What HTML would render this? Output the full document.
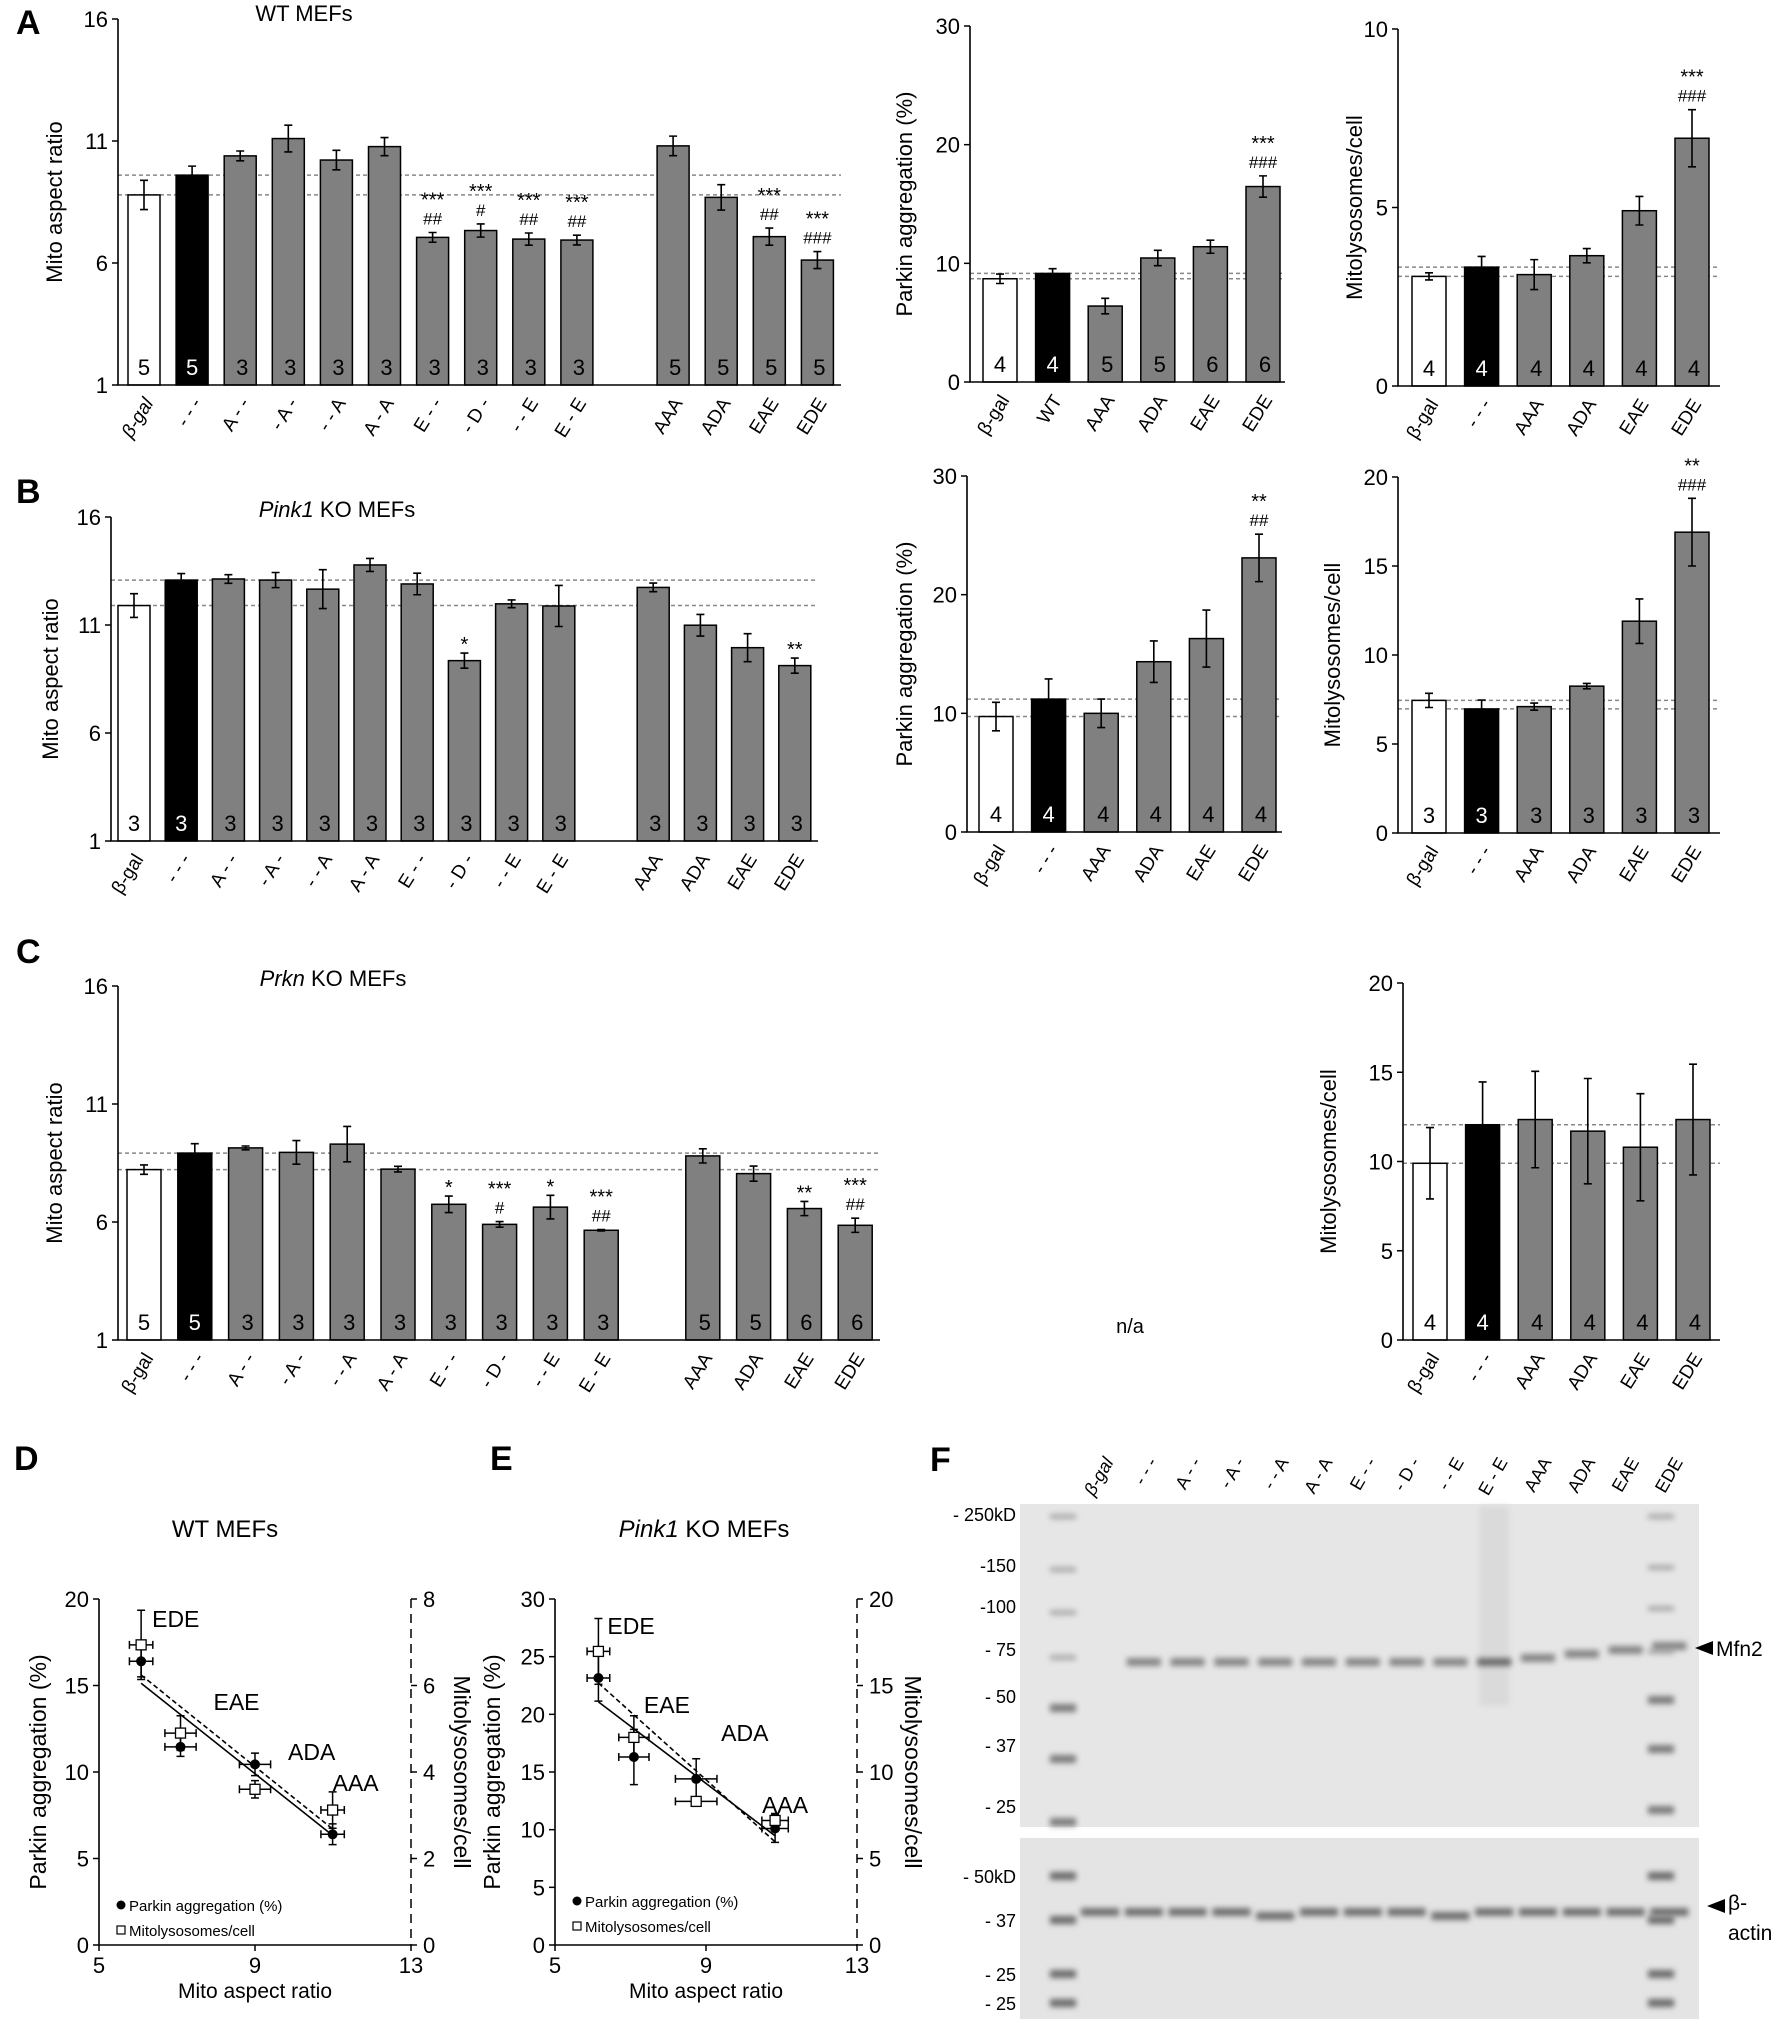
<!DOCTYPE html>
<html><head><meta charset="utf-8"><style>
html,body{margin:0;padding:0;background:#fff;}
svg{display:block;font-family:"Liberation Sans",Arial,sans-serif;}
</style></head><body>
<svg id="fig" width="1772" height="2019" viewBox="0 0 1772 2019" xmlns="http://www.w3.org/2000/svg">
<defs><filter id="blur" x="-20%" y="-200%" width="140%" height="500%"><feGaussianBlur stdDeviation="3"/></filter></defs>
</svg>
<script>
// ---------- DATA ----------
const catsLong = ['β-gal','- - -','A - -','- A -','- - A','A - A','E - -','- D -','- - E','E - E','AAA','ADA','EAE','EDE'];
const catsShortWT = ['β-gal','WT','AAA','ADA','EAE','EDE'];
const catsShort = ['β-gal','- - -','AAA','ADA','EAE','EDE'];

const aLeftVals = [8.79,9.6,10.39,11.1,10.22,10.77,7.05,7.33,6.98,6.94,10.8,8.69,7.08,6.12];
const aLeftErr  = [0.6,0.37,0.2,0.55,0.4,0.37,0.2,0.27,0.25,0.2,0.4,0.52,0.35,0.35];
const aLeftN    = [5,5,3,3,3,3,3,3,3,3,5,5,5,5];
const aLeftSig  = ['','','','','','','***','***','***','***','','','***','***'];
const aLeftHash = ['','','','','','','##','#','##','##','','','##','###'];

const aMidVals = [8.7,9.15,6.4,10.45,11.4,16.47];
const aMidErr  = [0.4,0.4,0.65,0.65,0.55,0.9];
const aMidN    = [4,4,5,5,6,6];
const aMidSig  = ['','','','','','***'];
const aMidHash = ['','','','','','###'];

const aRightVals = [3.07,3.33,3.12,3.65,4.91,6.94];
const aRightErr  = [0.1,0.3,0.42,0.2,0.4,0.8];
const aRightN    = [4,4,4,4,4,4];
const aRightSig  = ['','','','','','***'];
const aRightHash = ['','','','','','###'];

const bLeftVals = [11.9,13.08,13.13,13.08,12.66,13.78,12.9,9.35,11.98,11.88,12.74,10.99,9.95,9.12];
const bLeftErr  = [0.55,0.3,0.2,0.35,0.9,0.3,0.5,0.35,0.18,0.95,0.2,0.5,0.65,0.35];
const bLeftN    = [3,3,3,3,3,3,3,3,3,3,3,3,3,3];
const bLeftSig  = ['','','','','','','','*','','','','','','**'];
const bLeftHash = ['','','','','','','','','','','','','',''];

const bMidVals = [9.73,11.2,10.0,14.35,16.3,23.1];
const bMidErr  = [1.2,1.7,1.2,1.75,2.4,2.0];
const bMidN    = [4,4,4,4,4,4];
const bMidSig  = ['','','','','','**'];
const bMidHash = ['','','','','','##'];

const bRightVals = [7.45,6.97,7.1,8.25,11.9,16.9];
const bRightErr  = [0.4,0.5,0.2,0.15,1.25,1.9];
const bRightN    = [3,3,3,3,3,3];
const bRightSig  = ['','','','','','**'];
const bRightHash = ['','','','','','###'];

const cLeftVals = [8.22,8.92,9.14,8.95,9.3,8.24,6.75,5.9,6.63,5.65,8.8,8.05,6.57,5.86];
const cLeftErr  = [0.2,0.4,0.08,0.5,0.75,0.12,0.35,0.12,0.5,0.03,0.3,0.32,0.3,0.3];
const cLeftN    = [5,5,3,3,3,3,3,3,3,3,5,5,6,6];
const cLeftSig  = ['','','','','','','*','***','*','***','','','**','***'];
const cLeftHash = ['','','','','','','','#','','##','','','','##'];

const cRightVals = [9.9,12.06,12.35,11.7,10.8,12.35];
const cRightErr  = [2.0,2.4,2.7,2.95,3.0,3.1];
const cRightN    = [4,4,4,4,4,4];

const ticksAspect = [1,6,11,16];
const ticks30 = [0,10,20,30];
const ticks10 = [0,5,10];
const ticks20 = [0,5,10,15,20];

// scatter data
const scatLabels = ['EDE','EAE','ADA','AAA'];
const dX = [6.08,7.09,9.0,10.99];
const dXErr = [0.3,0.4,0.4,0.3];
const dPark = [16.4,11.45,10.44,6.4];
const dParkErr = [0.9,0.55,0.65,0.6];
const dMito = [6.94,4.9,3.6,3.12];
const dMitoErr = [0.8,0.4,0.2,0.42];
const eX = [6.15,7.09,8.74,10.83];
const eXErr = [0.3,0.4,0.55,0.35];
const ePark = [23.15,16.3,14.4,10.1];
const eParkErr = [2.0,2.4,1.75,1.2];
const eMito = [16.97,12.0,8.3,7.2];
const eMitoErr = [1.9,1.25,0.15,0.4];

const laneLabels = ['β-gal','- - -','A - -','- A -','- - A','A - A','E - -','- D -','- - E','E - E','AAA','ADA','EAE','EDE'];
const kdTop = ['- 250kD','-150','-100','- 75','- 50','- 37','- 25'];
const kdBot = ['- 50kD','- 37','- 25','- 25'];

// ---------- HELPERS ----------
const svgEl = document.getElementById('fig');
const NS = 'http://www.w3.org/2000/svg';
function mk(tag, attrs, parent, txtc){
  const e = document.createElementNS(NS, tag);
  for (const k in attrs) e.setAttribute(k, attrs[k]);
  if (txtc !== undefined) e.textContent = txtc;
  (parent||svgEl).appendChild(e);
  return e;
}
function group(name){
  const g = document.createElementNS(NS,'g');
  
  
  svgEl.appendChild(g);
  return g;
}
function txt(g, name, x, y, s, size, opts){
  opts = opts||{};
  const t = mk('text', {x:x, y:y, 'font-size':size, 'text-anchor':opts.anchor||'middle', fill:opts.fill||'#000'}, g, s);
  if (opts.weight) t.setAttribute('font-weight', opts.weight);
  if (opts.style) t.setAttribute('font-style', opts.style);
  if (opts.transform) t.setAttribute('transform', opts.transform);
  
  
  return t;
}

function barChart(cfg){
  const g = group(cfg.name);
  const y = v => cfg.yBot - (v - cfg.min) / (cfg.max - cfg.min) * (cfg.yBot - cfg.yTop);
  const slot = i => (cfg.gapAfter !== undefined && i >= cfg.gapAfter) ? i + 1 : i;
  const x = i => cfg.x0 + slot(i) * cfg.step;
  [cfg.vals[0], cfg.vals[1]].forEach((v,k)=>{
    const l = mk('line',{x1:cfg.axisX, x2:cfg.axisEnd, y1:y(v), y2:y(v), stroke:'#888', 'stroke-width':1.5, 'stroke-dasharray':'4,3'}, g);
    
    
  });
  cfg.vals.forEach((v,i)=>{
    const fill = i===0 ? '#fff' : (i===1 ? '#000' : '#808080');
    const r = mk('rect',{x:x(i)-cfg.bw/2, y:y(v), width:cfg.bw, height:cfg.yBot-y(v), fill:fill, stroke:'#000', 'stroke-width':1.5}, g);
    
    
    const e = cfg.err[i];
    const eb = mk('path',{d:`M${x(i)},${y(v+e)}V${y(v-e)}M${x(i)-4},${y(v+e)}h8M${x(i)-4},${y(v-e)}h8`, stroke:'#000','stroke-width':1.6, fill:'none'}, g);
    
    
    txt(g, 'n-label', x(i)+ (i>1?2:0), cfg.yBot-10, String(cfg.n[i]), 22, {fill: i===1?'#fff':'#000'});
    if (cfg.sig && cfg.sig[i]) {
      const hasHash = cfg.hash && cfg.hash[i];
      const tp = y(v+e);
      if (hasHash) {
        txt(g, 'hash-label', x(i), tp-8, cfg.hash[i], 17);
        txt(g, 'significance-label', x(i), tp-26, cfg.sig[i], 20);
      } else {
        txt(g, 'significance-label', x(i), tp-2, cfg.sig[i], 20);
      }
    }
    const lx = x(i)+10, ly = cfg.yBot+18;
    txt(g, 'x-tick-label', lx, ly, cfg.cats[i], 19, {anchor:'end', transform:`rotate(-58 ${lx} ${ly})`, style: cfg.italicFirst && i===0 ? 'italic':undefined});
  });
  const ax = mk('path',{d:`M${cfg.axisX},${cfg.yTop}V${cfg.yBot}H${cfg.axisEnd}`, stroke:'#000','stroke-width':1.6, fill:'none'}, g);
  
  
  cfg.ticks.forEach(t=>{
    mk('line',{x1:cfg.axisX-6,x2:cfg.axisX,y1:y(t),y2:y(t),stroke:'#000','stroke-width':1.5}, g);
    txt(g, 'y-tick-label', cfg.axisX-10, y(t)+8, String(t), 22, {anchor:'end'});
  });
  const cy = (cfg.yTop+cfg.yBot)/2;
  txt(g, 'y-axis-title', cfg.titleX, cy, cfg.ylabel, 22, {transform:`rotate(-90 ${cfg.titleX} ${cy})`});
}

// ---------- PANEL LETTERS & TITLES ----------
const lg = group('panel-labels');
[['A',16,34],['B',16,503],['C',16,963],['D',14,1470],['E',490,1470],['F',930,1471]].forEach(p=>{
  txt(lg,'panel-letter-'+p[0], p[1], p[2], p[0], 34, {anchor:'start', weight:'bold'});
});
const tg = group('chart-titles');
txt(tg,'title-wt', 304, 21, 'WT MEFs', 22);
const tb = mk('text',{x:337,y:517,'font-size':22,'text-anchor':'middle'},tg);
 
tb.innerHTML = '<tspan font-style="italic">Pink1</tspan> KO MEFs';
const tc = mk('text',{x:333,y:986,'font-size':22,'text-anchor':'middle'},tg);
 
tc.innerHTML = '<tspan font-style="italic">Prkn</tspan> KO MEFs';
txt(tg,'not-available-label',1130,1333,'n/a',20);

// ---------- BAR CHARTS ----------
barChart({name:'chart-a-aspect', cats:catsLong, vals:aLeftVals, err:aLeftErr, n:aLeftN, sig:aLeftSig, hash:aLeftHash,
  min:1,max:16,ticks:ticksAspect, yTop:19,yBot:385, axisX:118, axisEnd:841, x0:144, step:48.1, gapAfter:10, bw:32, titleX:62, ylabel:'Mito aspect ratio', italicFirst:true});
barChart({name:'chart-a-parkin', cats:catsShortWT, vals:aMidVals, err:aMidErr, n:aMidN, sig:aMidSig, hash:aMidHash,
  min:0,max:30,ticks:ticks30, yTop:26,yBot:382, axisX:970, axisEnd:1285, x0:1000, step:52.6, bw:34, titleX:912, ylabel:'Parkin aggregation (%)'});
barChart({name:'chart-a-mitolysosomes', cats:catsShort, vals:aRightVals, err:aRightErr, n:aRightN, sig:aRightSig, hash:aRightHash,
  min:0,max:10,ticks:ticks10, yTop:29,yBot:386, axisX:1398, axisEnd:1720, x0:1429, step:52.6, bw:34, titleX:1362, ylabel:'Mitolysosomes/cell'});

barChart({name:'chart-b-aspect', cats:catsLong, vals:bLeftVals, err:bLeftErr, n:bLeftN, sig:bLeftSig, hash:bLeftHash,
  min:1,max:16,ticks:ticksAspect, yTop:517,yBot:841, axisX:111, axisEnd:818, x0:134, step:47.2, gapAfter:10, bw:32, titleX:58, ylabel:'Mito aspect ratio'});
barChart({name:'chart-b-parkin', cats:catsShort, vals:bMidVals, err:bMidErr, n:bMidN, sig:bMidSig, hash:bMidHash,
  min:0,max:30,ticks:ticks30, yTop:476,yBot:832, axisX:967, axisEnd:1282, x0:996, step:52.6, bw:34, titleX:912, ylabel:'Parkin aggregation (%)'});
barChart({name:'chart-b-mitolysosomes', cats:catsShort, vals:bRightVals, err:bRightErr, n:bRightN, sig:bRightSig, hash:bRightHash,
  min:0,max:20,ticks:ticks20, yTop:477,yBot:833, axisX:1398, axisEnd:1720, x0:1429, step:52.6, bw:34, titleX:1340, ylabel:'Mitolysosomes/cell'});

barChart({name:'chart-c-aspect', cats:catsLong, vals:cLeftVals, err:cLeftErr, n:cLeftN, sig:cLeftSig, hash:cLeftHash,
  min:1,max:16,ticks:ticksAspect, yTop:986,yBot:1340, axisX:118, axisEnd:880, x0:144, step:50.8, gapAfter:10, bw:34, titleX:62, ylabel:'Mito aspect ratio'});
barChart({name:'chart-c-mitolysosomes', cats:catsShort, vals:cRightVals, err:cRightErr, n:cRightN,
  min:0,max:20,ticks:ticks20, yTop:983,yBot:1340, axisX:1403, axisEnd:1720, x0:1430, step:52.6, bw:34, titleX:1336, ylabel:'Mitolysosomes/cell'});

// ---------- SCATTER ----------
function fit(xs, ys){
  const n=xs.length, mx=xs.reduce((a,b)=>a+b)/n, my=ys.reduce((a,b)=>a+b)/n;
  let sxy=0,sxx=0; xs.forEach((x,i)=>{sxy+=(x-mx)*(ys[i]-my); sxx+=(x-mx)*(x-mx);});
  const b=sxy/sxx; return [my-b*mx, b];
}
function scatter(cfg){
  const g = group(cfg.name);
  const X = v => cfg.xL + (v-5)/8*(cfg.xR-cfg.xL);
  const Y = v => cfg.yB - v/cfg.lMax*(cfg.yB-cfg.yT);
  const Y2 = v => cfg.yB - v/cfg.rMax*(cfg.yB-cfg.yT);
  txt(g,'scatter-title',cfg.titleX,cfg.titleY,'',24).innerHTML = cfg.titleHTML;
  mk('path',{d:`M${cfg.xL},${cfg.yT}V${cfg.yB}H${cfg.xR}`,stroke:'#000','stroke-width':1.6,fill:'none'},g);
  mk('line',{x1:cfg.xR,x2:cfg.xR,y1:cfg.yT,y2:cfg.yB,stroke:'#000','stroke-width':1.5,'stroke-dasharray':'9,6'},g);
  cfg.lTicks.forEach(t=>{
    mk('line',{x1:cfg.xL-6,x2:cfg.xL,y1:Y(t),y2:Y(t),stroke:'#000','stroke-width':1.5},g);
    txt(g,'y-tick-label',cfg.xL-10,Y(t)+8,String(t),22,{anchor:'end'});
  });
  cfg.rTicks.forEach(t=>{
    mk('line',{x1:cfg.xR,x2:cfg.xR+6,y1:Y2(t),y2:Y2(t),stroke:'#000','stroke-width':1.5},g);
    txt(g,'y2-tick-label',cfg.xR+12,Y2(t)+8,String(t),22,{anchor:'start'});
  });
  [5,9,13].forEach(t=>{
    mk('line',{x1:X(t),x2:X(t),y1:cfg.yB,y2:cfg.yB+6,stroke:'#000','stroke-width':1.5},g);
    txt(g,'x-tick-label',X(t),cfg.yB+28,String(t),22);
  });
  txt(g,'x-axis-title',(cfg.xL+cfg.xR)/2,cfg.yB+53,'Mito aspect ratio',21);
  const cy=(cfg.yT+cfg.yB)/2;
  txt(g,'y-axis-title',cfg.yTitleX,cy,'Parkin aggregation (%)',23,{transform:`rotate(-90 ${cfg.yTitleX} ${cy})`});
  txt(g,'y2-axis-title',cfg.y2TitleX,cy,'Mitolysosomes/cell',23,{transform:`rotate(90 ${cfg.y2TitleX} ${cy})`});
  const xmin=Math.min(...cfg.xs), xmax=Math.max(...cfg.xs);
  const [a1,b1]=fit(cfg.xs,cfg.park);
  const l1 = mk('line',{x1:X(xmin),y1:Y(a1+b1*xmin),x2:X(xmax),y2:Y(a1+b1*xmax),stroke:'#000','stroke-width':1.6},g);
   
  const [a2,b2]=fit(cfg.xs,cfg.mito);
  const l2 = mk('line',{x1:X(xmin),y1:Y2(a2+b2*xmin),x2:X(xmax),y2:Y2(a2+b2*xmax),stroke:'#000','stroke-width':1.6,'stroke-dasharray':'5,3'},g);
   
  cfg.xs.forEach((xv,i)=>{
    const px=X(xv);
    const yp=Y(cfg.park[i]), ype=cfg.parkErr[i];
    mk('path',{d:`M${X(xv-cfg.xErr[i])},${yp}H${X(xv+cfg.xErr[i])}M${X(xv-cfg.xErr[i])},${yp-4}v8M${X(xv+cfg.xErr[i])},${yp-4}v8M${px},${Y(cfg.park[i]+ype)}V${Y(cfg.park[i]-ype)}M${px-4},${Y(cfg.park[i]+ype)}h8M${px-4},${Y(cfg.park[i]-ype)}h8`,stroke:'#000','stroke-width':1.5,fill:'none'},g);
    const c=mk('circle',{cx:px,cy:yp,r:5,fill:'#000'},g);
     
    const ym=Y2(cfg.mito[i]), yme=cfg.mitoErr[i];
    mk('path',{d:`M${X(xv-cfg.xErr[i])},${ym}H${X(xv+cfg.xErr[i])}M${X(xv-cfg.xErr[i])},${ym-4}v8M${X(xv+cfg.xErr[i])},${ym-4}v8M${px},${Y2(cfg.mito[i]+yme)}V${Y2(cfg.mito[i]-yme)}M${px-4},${Y2(cfg.mito[i]+yme)}h8M${px-4},${Y2(cfg.mito[i]-yme)}h8`,stroke:'#000','stroke-width':1.5,fill:'none'},g);
    const s=mk('rect',{x:px-5,y:ym-5,width:10,height:10,fill:'#fff',stroke:'#000','stroke-width':1.3},g);
     
    txt(g,'point-label-'+scatLabels[i],px+cfg.lblDx[i],cfg.lblY[i],scatLabels[i],23,{anchor:'start'});
  });
  const lgx=cfg.xL+22, lgy=cfg.legY;
  mk('circle',{cx:lgx,cy:lgy-6,r:4.5,fill:'#000'},g);
  txt(g,'legend-parkin',lgx+8,lgy,'Parkin aggregation (%)',15,{anchor:'start'});
  mk('rect',{x:lgx-4,y:lgy+15,width:8,height:8,fill:'#fff',stroke:'#000','stroke-width':1.2},g);
  txt(g,'legend-mito',lgx+8,lgy+25,'Mitolysosomes/cell',15,{anchor:'start'});
}
scatter({name:'scatter-d', xs:dX, xErr:dXErr, park:dPark, parkErr:dParkErr, mito:dMito, mitoErr:dMitoErr,
  xL:99,xR:411,yT:1599,yB:1945,lMax:20,rMax:8,lTicks:[0,5,10,15,20],rTicks:[0,2,4,6,8],
  titleX:225,titleY:1537,titleHTML:'WT MEFs',yTitleX:46,y2TitleX:454,legY:1911,
  lblDx:[11,33,33,0],lblY:[1627,1710,1760,1791]});
scatter({name:'scatter-e', xs:eX, xErr:eXErr, park:ePark, parkErr:eParkErr, mito:eMito, mitoErr:eMitoErr,
  xL:555,xR:857,yT:1599,yB:1945,lMax:30,rMax:20,lTicks:[0,5,10,15,20,25,30],rTicks:[0,5,10,15,20],
  titleX:704,titleY:1537,titleHTML:'<tspan font-style="italic">Pink1</tspan> KO MEFs',yTitleX:500,y2TitleX:905,legY:1907,
  lblDx:[9,10,25,-13],lblY:[1634,1713,1741,1813]});

// ---------- WESTERN BLOT ----------
const wb = group('western-blot');
const laneX0 = 1100, laneStep = 43.8;
laneLabels.forEach((l,i)=>{
  const lx = laneX0 + i*laneStep + 14, ly = 1462;
  txt(wb,'lane-label',lx,ly,l,18,{anchor:'end',transform:`rotate(-60 ${lx} ${ly})`, style: i===0?'italic':undefined});
});
const topBlot = mk('rect',{x:1020,y:1504,width:679,height:323,fill:'#e6e6e6'},wb);
 
const botBlot = mk('rect',{x:1020,y:1838,width:679,height:181,fill:'#e4e4e4'},wb);
 
mk('rect',{x:laneX0+9*laneStep-15,y:1506,width:30,height:200,fill:'#dadada',filter:'url(#blur)'},wb);
const ladderTop=[1514,1565,1606,1649,1696,1745,1806];
const ladderBot=[1876,1920,1974,2003];
[1062,1660].forEach((lx,k)=>{
  ladderTop.forEach((yy,j)=>{
    mk('rect',{x:lx-12,y:yy+(k?0:j*2),width:26,height:j>3?8:5,fill:j>3?'#7a7a7a':'#a8a8a8',filter:'url(#blur)'},wb);
  });
  ladderBot.forEach((yy,j)=>{
    mk('rect',{x:lx-12,y:yy-4,width:26,height:8,fill:'#6a6a6a',filter:'url(#blur)'},wb);
  });
});
laneLabels.forEach((l,i)=>{
  if(i===0) return;
  const lx = laneX0 + i*laneStep;
  const by = 1662 - (i>9 ? (i-9)*4 : 0);
  const b=mk('rect',{x:lx-17,y:by-4,width:34,height:8,fill:i===9?'#6a6a6a':'#858585',filter:'url(#blur)'},wb);
   
});
laneLabels.forEach((l,i)=>{
  const lx = laneX0 + i*laneStep;
  const by = 1912 + ((i===4||i===8)?4:0);
  const b=mk('rect',{x:lx-19,y:by-4,width:38,height:8,fill:'#6e6e6e',filter:'url(#blur)'},wb);
   
});
kdTop.forEach((k,j)=>txt(wb,'kd-marker',1016,ladderTop[j]+7,k,18,{anchor:'end'}));
ladderBot.forEach((yy,j)=>txt(wb,'kd-marker',1016,yy+7,kdBot[j],18,{anchor:'end'}));
mk('path',{d:'M1695,1648l18,-7v14z',fill:'#000'},wb);
txt(wb,'mfn2-label',1716,1656,'Mfn2',21,{anchor:'start'});
mk('path',{d:'M1707,1906l18,-7v14z',fill:'#000'},wb);
txt(wb,'actin-label',1728,1910,'β-',21,{anchor:'start'});
txt(wb,'actin-label-2',1728,1940,'actin',21,{anchor:'start'});
</script>
</body></html>
